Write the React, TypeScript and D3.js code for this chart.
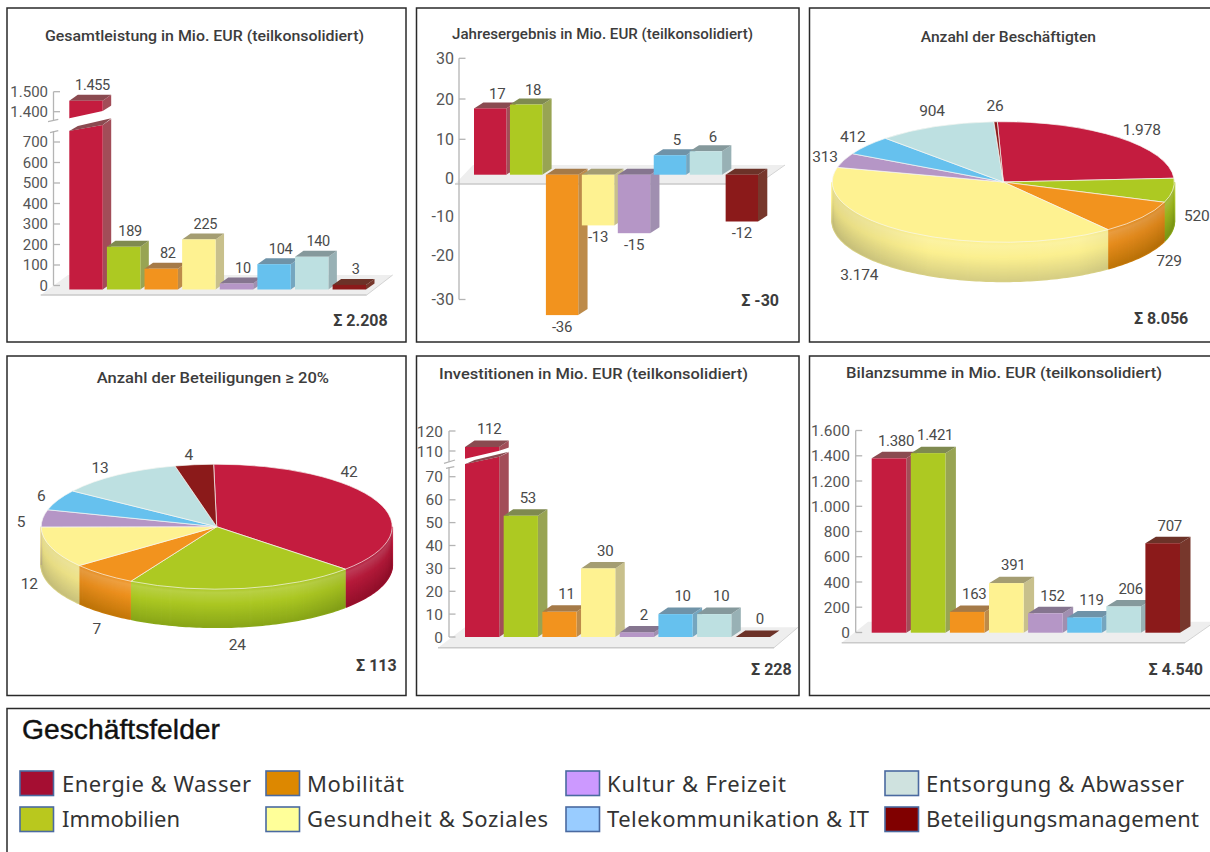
import React from "react";
import * as d3 from "d3";

// Business areas, in the order used by every panel
const categories = [
  "Energie & Wasser",
  "Immobilien",
  "Mobilität",
  "Gesundheit & Soziales",
  "Kultur & Freizeit",
  "Telekommunikation & IT",
  "Entsorgung & Abwasser",
  "Beteiligungsmanagement",
];

const gesamtleistung = [1455, 189, 82, 225, 10, 104, 140, 3];
const jahresergebnis = [17, 18, -36, -13, -15, 5, 6, -12];
const beschaeftigte = [1978, 520, 729, 3174, 313, 412, 904, 26];
const beteiligungen = [42, 24, 7, 12, 5, 6, 13, 4];
const investitionen = [112, 53, 11, 30, 2, 10, 10, 0];
const bilanzsumme = [1380, 1421, 163, 391, 152, 119, 206, 707];

const gesamtleistungTicks = [0, 100, 200, 300, 400, 500, 600, 700, 1400, 1500];
const jahresergebnisTicks = [-30, -20, -10, 0, 10, 20, 30];
const investitionenTicks = [0, 10, 20, 30, 40, 50, 60, 70, 110, 120];
const bilanzsummeTicks = [0, 200, 400, 600, 800, 1000, 1200, 1400, 1600];

const legendColumns = [
  ["Energie & Wasser", "Immobilien"],
  ["Mobilität", "Gesundheit & Soziales"],
  ["Kultur & Freizeit", "Telekommunikation & IT"],
  ["Entsorgung & Abwasser", "Beteiligungsmanagement"],
];

// Styling of the 3D faces per category
const frontColor = ["#c41c3f", "#adc922", "#f2931e", "#fef291", "#b596c6", "#66c1ee", "#bde0e1", "#8b1a1a"];
const sideColor = ["#a24d58", "#98a453", "#bd8b4a", "#c8c08c", "#a08fb0", "#75a6bf", "#98b1b5", "#77372c"];
const topColor = ["#8a4a50", "#7f8a50", "#a57a48", "#a49d72", "#85758f", "#6f93a8", "#85999c", "#6c3228"];
const wallDark = ["#a0102e", "#8aa818", "#c87a08", "#d8d084", "#8e70a0", "#3f94c0", "#8fb4b5", "#601010"];
const legendFill: Record<string, string> = {
  "Energie & Wasser": "#a50e32",
  Immobilien: "#b9c81e",
  Mobilität: "#dd8800",
  "Gesundheit & Soziales": "#ffff99",
  "Kultur & Freizeit": "#cc99ff",
  "Telekommunikation & IT": "#99ccff",
  "Entsorgung & Abwasser": "#cfe2df",
  Beteiligungsmanagement: "#800000",
};
const legendTextEnd: Record<string, number> = {
  "Energie & Wasser": 251,
  Immobilien: 180,
  Mobilität: 404,
  "Gesundheit & Soziales": 548,
  "Kultur & Freizeit": 786,
  "Telekommunikation & IT": 869,
  "Entsorgung & Abwasser": 1184,
  Beteiligungsmanagement: 1199,
};

const FONT = "Roboto, 'Noto Sans', sans-serif";
const LABEL = "#4a4a4a";
const de = d3.formatLocale({ decimal: ",", thousands: ".", grouping: [3], currency: ["", " €"], minus: "-" }).format(",");

function poly(points: number[][]) {
  return points.map((p) => p.join(",")).join(" ");
}

type BreakGap = {
  ref: number;
  upper: number[];
  lower: number[];
  corner: number;
  axisUpperEnd: number;
  axisLowerStart: number;
  slashUpper: number[];
  slashLower: number[];
};

type BarProps = {
  values: number[];
  ticks: number[];
  tickRange: number[];
  tickMarks?: number[];
  axisX: number;
  labelRight: number;
  tickFont: number;
  barDomain?: number[];
  barRange?: number[];
  baseY: number;
  xRange: number[];
  padding: number;
  dx: number;
  dy: number;
  floor: number[];
  labelFont: number;
  labelDx: number;
  labelDy: number;
  gap?: BreakGap;
};

// Column chart with extruded bars on a grey floor and an optionally broken axis
function BarChart(p: BarProps) {
  const axis = d3.scaleLinear().domain(p.ticks).range(p.tickRange);
  const barY = p.barDomain ? d3.scaleLinear().domain(p.barDomain).range(p.barRange as number[]) : axis;
  const band = d3.scaleBand<string>().domain(categories).range(p.xRange as [number, number]).paddingInner(p.padding);
  const w = band.bandwidth();
  const [fl, fr, fy, bl, br, by] = p.floor;
  const ticks = p.tickMarks ?? p.ticks;
  const top = axis(p.ticks[p.ticks.length - 1]);
  const bottom = axis(p.ticks[0]);
  const g = p.gap;
  const x0 = band(categories[0]) as number;
  const gapY = g ? axis(g.ref) : 0;
  const axisStroke = { stroke: "#b4b4b4", strokeWidth: 1.3 };
  return (
    <g fontFamily={FONT}>
      <polygon points={poly([[fl, fy], [fr, fy], [br, by], [bl, by]])} fill="#eeeeee" />
      <line x1={fl} x2={fr} y1={fy} y2={fy} stroke="#cacaca" strokeWidth={1.4} />
      <line x1={fr} x2={br} y1={fy} y2={by} stroke="#d4d4d4" strokeWidth={1} />
      {g ? (
        <g {...axisStroke} fill="none">
          <line x1={p.axisX} x2={p.axisX} y1={top} y2={g.axisUpperEnd} />
          <line x1={p.axisX} x2={p.axisX} y1={g.axisLowerStart} y2={bottom} />
          <line x1={g.slashUpper[0]} y1={g.slashUpper[1]} x2={g.slashUpper[2]} y2={g.slashUpper[3]} />
          <line x1={g.slashLower[0]} y1={g.slashLower[1]} x2={g.slashLower[2]} y2={g.slashLower[3]} />
        </g>
      ) : (
        <line x1={p.axisX} x2={p.axisX} y1={top} y2={bottom} {...axisStroke} />
      )}
      {ticks.map((t) => (
        <line key={t} x1={p.axisX} x2={p.axisX + 6.5} y1={axis(t)} y2={axis(t)} {...axisStroke} />
      ))}
      {p.ticks.map((t) => (
        <text key={t} x={p.labelRight} y={axis(t) + p.tickFont * 0.36} textAnchor="end" fontSize={p.tickFont} fill="#555">
          {de(t)}
        </text>
      ))}
      {p.values.map((v, i) => {
        const x = band(categories[i]) as number;
        const yv = barY(v);
        const t = v >= 0 ? Math.min(yv, p.baseY) : p.baseY;
        const b = v >= 0 ? p.baseY : yv;
        return (
          <g key={i}>
            <polygon
              points={poly([[x + w, t], [x + w + p.dx, t - p.dy], [x + w + p.dx, b - p.dy], [x + w, b]])}
              fill={sideColor[i]}
            />
            <polygon
              points={poly([[x, t], [x + p.dx, t - p.dy], [x + w + p.dx, t - p.dy], [x + w, t]])}
              fill={topColor[i]}
            />
            <rect x={x} y={t} width={w} height={b - t} fill={frontColor[i]} />
          </g>
        );
      })}
      {g && (
        <g>
          <polygon
            points={poly([
              [x0 - 1, gapY + g.upper[0]],
              [x0 + w, gapY + g.upper[1]],
              [x0 + w + p.dx + 1, gapY + g.upper[2]],
              [x0 + w + p.dx + 1, gapY + g.lower[2]],
              [x0 + w, gapY + g.lower[1]],
              [x0 - 1, gapY + g.lower[0]],
            ])}
            fill="#fff"
          />
          <polygon
            points={poly([
              [x0, gapY + g.lower[0]],
              [x0 + p.dx, gapY + g.corner],
              [x0 + w + p.dx, gapY + g.lower[2]],
              [x0 + w, gapY + g.lower[1]],
            ])}
            fill={topColor[0]}
          />
        </g>
      )}
      {p.values.map((v, i) => {
        const x = (band(categories[i]) as number) + w / 2 + p.labelDx;
        const y = barY(v);
        return (
          <text
            key={i}
            x={v < 0 ? x - p.labelDx : x}
            y={v < 0 ? y + 16.5 : Math.min(y, p.baseY) + p.labelDy}
            textAnchor="middle"
            fontSize={p.labelFont}
            letterSpacing={-0.3}
            fill={LABEL}
          >
            {de(v)}
          </text>
        );
      })}
    </g>
  );
}

type PieProps = {
  id: string;
  values: number[];
  cx: number;
  cy: number;
  rx: number;
  ry: number;
  depth: number;
  startDeg: number;
  labelPos: number[][];
};

// Tilted pie: a flattened d3 arc on top of stacked elliptical strokes forming the wall
function TiltedPie(p: PieProps) {
  const start = (p.startDeg * Math.PI) / 180;
  const slices = d3.pie<number>().sort(null).startAngle(start).endAngle(start + 2 * Math.PI)(p.values);
  const arc = d3.arc<d3.PieArcDatum<number>>().innerRadius(0).outerRadius(p.rx);
  const rim = d3
    .line<number>()
    .x((a) => p.cx + p.rx * Math.sin(a))
    .y((a) => p.cy - p.ry * Math.cos(a));
  const sweep = (a0: number, a1: number) => d3.range(a0, a1, 0.02).concat([a1]);
  const lo = Math.PI / 2;
  const hi = (3 * Math.PI) / 2;
  const levels = d3.range(0, p.depth + 0.01, 1);
  const walls = slices.map((s, i) => {
    const a0 = Math.max(s.startAngle, lo);
    const a1 = Math.min(s.endAngle, hi);
    if (a1 <= a0) return null;
    const shade = d3
      .scaleLinear<string>()
      .domain([0, 0.1, 0.4, 1])
      .range([
        frontColor[i],
        d3.interpolateRgb(frontColor[i], "#ffffff")(0.16),
        frontColor[i],
        wallDark[i],
      ])
      .clamp(true);
    const path = rim(sweep(a0, a1)) as string;
    return (
      <g key={i} fill="none" strokeWidth={1.8}>
        {levels.map((k) => (
          <path key={k} d={path} transform={`translate(0,${k})`} stroke={shade(k / p.depth)} />
        ))}
      </g>
    );
  });
  const outer = sweep(lo, hi);
  const bandPath = (rim(outer) as string) + "L" + outer
    .slice()
    .reverse()
    .map((a) => `${p.cx + p.rx * Math.sin(a)},${p.cy - p.ry * Math.cos(a) + p.depth}`)
    .join("L") + "Z";
  return (
    <g fontFamily={FONT}>
      <defs>
        <linearGradient id={p.id} x1="0" x2="1" y1="0" y2="0">
          <stop offset="0" stopColor="#000" stopOpacity={0.1} />
          <stop offset="0.28" stopColor="#000" stopOpacity={0.01} />
          <stop offset="0.72" stopColor="#000" stopOpacity={0.01} />
          <stop offset="1" stopColor="#000" stopOpacity={0.12} />
        </linearGradient>
      </defs>
      {walls}
      <path d={bandPath} fill={`url(#${p.id})`} />
      <g transform={`translate(${p.cx},${p.cy}) scale(1,${p.ry / p.rx})`}>
        {slices.map((s, i) => (
          <path key={i} d={arc(s) as string} fill={frontColor[i]} stroke="#f7f7f2" strokeWidth={0.7} vectorEffect="non-scaling-stroke" />
        ))}
      </g>
      {p.values.map((v, i) => (
        <text key={i} x={p.labelPos[i][0]} y={p.labelPos[i][1] + 5.5} textAnchor="middle" fontSize={15.5} letterSpacing={-0.2} fill={LABEL}>
          {de(v)}
        </text>
      ))}
    </g>
  );
}

function Panel(props: { x: number; y: number; w: number; h: number }) {
  return <rect x={props.x} y={props.y} width={props.w} height={props.h} fill="#fff" stroke="#2a2a2a" strokeWidth={1.5} />;
}

function Title(props: { text: string; x0: number; x1: number; y: number }) {
  return (
    <text
      x={props.x0}
      y={props.y}
      fontFamily={FONT}
      fontWeight={500}
      fontSize={15.5}
      fill="#3c3c3c"
      textLength={props.x1 - props.x0}
      lengthAdjust="spacingAndGlyphs"
    >
      {props.text}
    </text>
  );
}

function Sum(props: { text: string; x: number; y: number }) {
  return (
    <text x={props.x} y={props.y} textAnchor="end" fontFamily={FONT} fontWeight={700} fontSize={16} fill="#3c3c3c">
      {props.text}
    </text>
  );
}

export default function App() {
  const swatchX = [20, 266, 566, 885];
  const textX = [62, 307, 607, 926];
  const rowY = [771, 807];
  const textBase = [792, 827];
  return (
    <svg width={1210} height={852} style={{ position: "absolute", left: 0, top: 0, display: "block" }}>
      <rect width={1210} height={852} fill="#fff" />

      <Panel x={7} y={8} w={399} h={334} />
      <Panel x={416.5} y={8} w={382.5} h={334} />
      <Panel x={809.5} y={8} w={420} h={334} />
      <Panel x={7} y={356} w={399} h={339.5} />
      <Panel x={416.5} y={356} w={382.5} h={339.5} />
      <Panel x={809.5} y={356} w={420} h={339.5} />
      <Panel x={7} y={708.5} w={1220} h={160} />

      <Title text="Gesamtleistung in Mio. EUR (teilkonsolidiert)" x0={45} x1={364} y={40.5} />
      <BarChart
        values={gesamtleistung}
        ticks={gesamtleistungTicks}
        tickRange={[285.5, 265, 244.5, 224, 203.5, 183, 162.5, 142, 111.7, 91.7]}
        axisX={53.5}
        labelRight={48}
        tickFont={15}
        baseY={289.5}
        xRange={[69.3, 366]}
        padding={0.112}
        dx={8.5}
        dy={6}
        floor={[40.7, 366.7, 295, 68, 392.7, 275]}
        labelFont={14.5}
        labelDx={6.5}
        labelDy={-10.5}
        gap={{
          ref: 1400,
          upper: [6.8, -0.7, -6.7],
          lower: [19.3, 13.3, 6.6],
          corner: 14.3,
          axisUpperEnd: 120,
          axisLowerStart: 131,
          slashUpper: [48, 121.7, 58.3, 119.3],
          slashLower: [50, 132.7, 58.3, 130.7],
        }}
      />
      <Sum text="Σ 2.208" x={387.7} y={326} />

      <Title text="Jahresergebnis in Mio. EUR (teilkonsolidiert)" x0={452} x1={753} y={39} />
      <BarChart
        values={jahresergebnis}
        ticks={jahresergebnisTicks}
        tickRange={[299.5, 255, 216, 178.5, 139.3, 99, 58.3]}
        tickMarks={[-30, 10, 20, 30]}
        axisX={459}
        labelRight={454}
        tickFont={16}
        barDomain={[-30, 30]}
        barRange={[291.7, 57.7]}
        baseY={174.7}
        xRange={[474, 758]}
        padding={0.1}
        dx={9.3}
        dy={6}
        floor={[455, 758, 184, 473, 785, 165]}
        labelFont={15}
        labelDx={7}
        labelDy={-9.8}
      />
      <Sum text="Σ -30" x={779} y={305.7} />

      <Title text="Anzahl der Beschäftigten" x0={920.7} x1={1096} y={42.3} />
      <TiltedPie
        id="wall-beschaeftigte"
        values={beschaeftigte}
        cx={1003.3}
        cy={182}
        rx={171}
        ry={60.3}
        depth={39}
        startDeg={-2}
        labelPos={[[1141.7, 129], [1196.7, 215], [1169, 260.7], [859.3, 274], [825, 156.7], [852.7, 136.7], [932, 110.7], [995, 105.7]]}
      />
      <Sum text="Σ 8.056" x={1188.3} y={324.3} />

      <Title text="Anzahl der Beteiligungen ≥ 20%" x0={96.7} x1={329} y={382.7} />
      <TiltedPie
        id="wall-beteiligungen"
        values={beteiligungen}
        cx={216.7}
        cy={526.7}
        rx={175.5}
        ry={62.5}
        depth={38}
        startDeg={-1}
        labelPos={[[349, 471], [237.3, 644], [96.7, 628.3], [29.3, 583.3], [21, 521], [41.3, 495], [100, 467.3], [188.7, 454]]}
      />
      <Sum text="Σ 113" x={396.7} y={670.7} />

      <Title text="Investitionen in Mio. EUR (teilkonsolidiert)" x0={439} x1={748} y={379.3} />
      <BarChart
        values={investitionen}
        ticks={investitionenTicks}
        tickRange={[637, 614.1, 591.3, 568.4, 545.5, 522.6, 499.8, 476.7, 451, 431]}
        axisX={449}
        labelRight={443}
        tickFont={15.5}
        baseY={637}
        xRange={[465, 770]}
        padding={0.115}
        dx={9.5}
        dy={6.5}
        floor={[438, 774, 647.7, 465, 798, 627.3]}
        labelFont={15}
        labelDx={7}
        labelDy={-12.7}
        gap={{
          ref: 110,
          upper: [8, -0.3, -3.7],
          lower: [13.3, 5.7, 0.7],
          corner: 9,
          axisUpperEnd: 461.7,
          axisLowerStart: 467,
          slashUpper: [444, 463.3, 455, 460],
          slashLower: [446, 468.3, 454.3, 466.7],
        }}
      />
      <Sum text="Σ 228" x={791.7} y={675} />

      <Title text="Bilanzsumme in Mio. EUR (teilkonsolidiert)" x0={846} x1={1162} y={378.3} />
      <BarChart
        values={bilanzsumme}
        ticks={bilanzsummeTicks}
        tickRange={[632.5, 607.2, 582, 556.7, 531.5, 506.3, 481, 455.8, 430.5]}
        axisX={855.7}
        labelRight={850}
        tickFont={15.5}
        baseY={632.7}
        xRange={[871.7, 1180]}
        padding={0.115}
        dx={10.5}
        dy={6.5}
        floor={[841.7, 1185, 642.7, 868, 1215, 621.7]}
        labelFont={15}
        labelDx={7}
        labelDy={-12.7}
      />
      <Sum text="Σ 4.540" x={1203} y={675} />

      <text x={22} y={739} fontFamily="'Liberation Sans', sans-serif" fontSize={28} fill="#111" stroke="#111" strokeWidth={0.4} textLength={198} lengthAdjust="spacingAndGlyphs">
        Geschäftsfelder
      </text>
      {legendColumns.map((col, c) =>
        col.map((name, r) => (
          <g key={name}>
            <rect x={swatchX[c]} y={rowY[r]} width={33.5} height={24.5} fill={legendFill[name]} stroke="#4a6aa0" strokeWidth={1.6} />
            <text
              x={textX[c]}
              y={textBase[r]}
              fontFamily="'Noto Sans', sans-serif"
              fontSize={22}
              fill="#333"
              textLength={legendTextEnd[name] - textX[c]}
              lengthAdjust="spacing"
            >
              {name}
            </text>
          </g>
        ))
      )}
    </svg>
  );
}
